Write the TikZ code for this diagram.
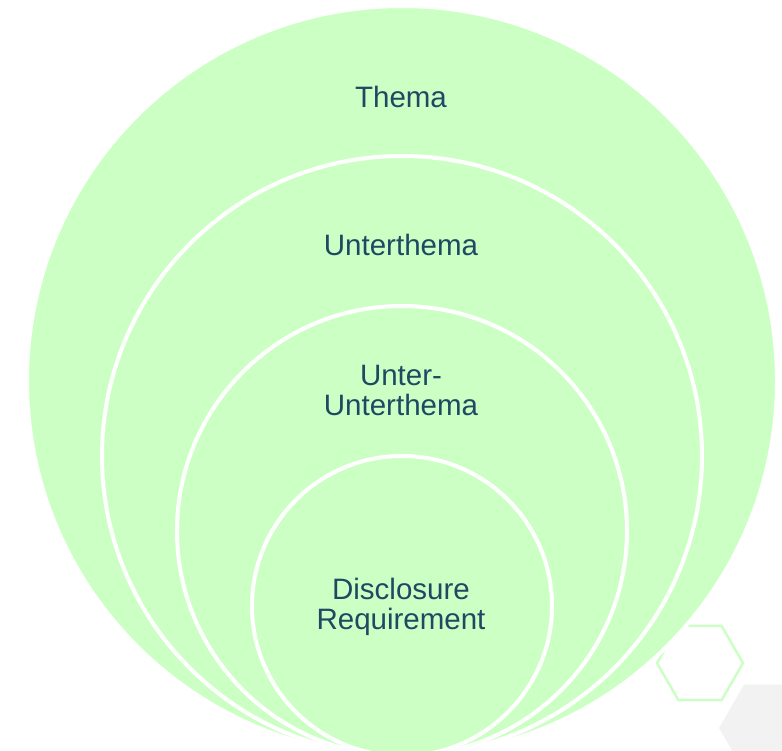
\documentclass[tikz,border=0pt]{standalone}
\usepackage{fontspec}
\setmainfont{Liberation Sans}
\usepackage{xcolor}
\usepackage{tikz}
\usetikzlibrary{positioning}
\definecolor{ringGreen}{RGB}{204,255,196}
\definecolor{labelBlue}{RGB}{31,72,99}
\definecolor{hexGray}{RGB}{242,242,242}

\begin{document}
\begin{tikzpicture}[x=1pt,y=-1pt,
  ring/.style={fill=ringGreen, draw=white, line width=4pt},
  ringlabel/.style={text=labelBlue, font=\fontsize{29.5}{30}\selectfont, align=center, inner sep=0pt}]
\useasboundingbox (0,0) rectangle (782,750);
\clip (0,0) rectangle (782,750);

% hexagons behind the rings
\fill[hexGray] (769,728) +(0:50) \foreach \a in {60,120,...,300} {-- +(\a:50)} -- cycle;
\draw[ringGreen, line width=2.5pt] (700,663) +(0:43) \foreach \a in {60,120,...,300} {-- +(\a:43)} -- cycle;

% nested rings, all touching at the bottom
\foreach \r in {375,300,225,150}
  \draw[ring] (402,{756-\r}) circle[radius=\r pt];

\node[ringlabel] (thema) at (401,97) {Thema};
\node[ringlabel] (unterthema) at (401,245) {Unterthema};
\node[ringlabel] (unterunter) at (401,390) {Unter-\\Unterthema};
\node[ringlabel] (disclosure) at (401,607) {Disclosure\\Requirement};
\end{tikzpicture}
\end{document}
